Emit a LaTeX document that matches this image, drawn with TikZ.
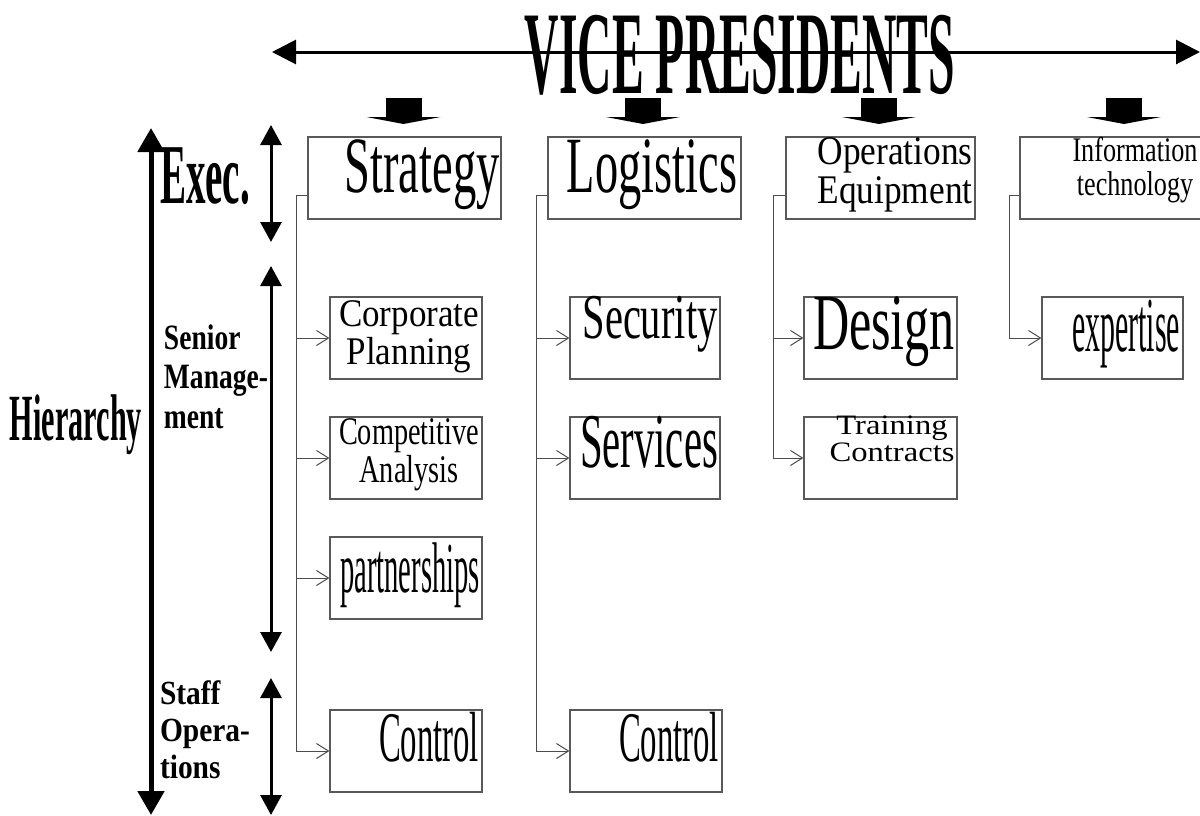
\documentclass[tikz,border=0pt]{standalone}
\usepackage{fontspec}
\setmainfont{Liberation Serif}
\usepackage{graphicx}
\usetikzlibrary{arrows.meta}
\newcommand{\fitxt}[3]{\resizebox*{#1pt}{#2pt}{#3}}
\newcommand{\twol}[2]{{\renewcommand{\arraystretch}{0.8}\begin{tabular}{@{}c@{}}#1\\#2\end{tabular}}}
\newcommand{\threel}[3]{{\renewcommand{\arraystretch}{0.92}\begin{tabular}{@{}l@{}}#1\\#2\\#3\end{tabular}}}
\tikzset{
  boxnode/.style={draw=black!65, line width=1.2pt, rectangle, inner sep=0pt, minimum height=82pt},
  txt/.style={inner sep=0pt, anchor=center},
  conn/.style={draw=black!70, line width=1pt},
  connarr/.style={conn, -{Straight Barb[length=12pt,width=15pt]}},
  bigarr/.style={line width=3pt, {Triangle[length=24pt,width=24pt]}-{Triangle[length=24pt,width=24pt]}},
  mainarr/.style={line width=5pt, {Triangle[length=24pt,width=26pt]}-{Triangle[length=24pt,width=26pt]}},
  segarr/.style={line width=3pt, {Triangle[length=20pt,width=21pt]}-{Triangle[length=20pt,width=21pt]}}
}
\begin{document}
\begin{tikzpicture}[x=1pt,y=-1pt]
\useasboundingbox (0,0) rectangle (1200,815);
\fill[white] (0,0) rectangle (1200,815);

% top axis
\coordinate (hl) at (272,52);
\coordinate (hr) at (1200,52);
\draw[bigarr] (hl) -- (hr);
\node[txt] (title) at (740,55) {\fitxt{430}{80}{\bfseries VICE PRESIDENTS}};

% block arrows
\foreach \c in {403.5,643,879,1124}{
  \fill (\c-18,98) rectangle (\c+18,117);
  \fill (\c-37,117) -- (\c+37,117) -- (\c,124) -- cycle;
}

% left axes
\coordinate (vt) at (151,128);
\coordinate (vb) at (151,815);
\draw[mainarr] (vt) -- (vb);
\coordinate (s1t) at (271,125); \coordinate (s1b) at (271,242);
\coordinate (s2t) at (271,266); \coordinate (s2b) at (271,652);
\coordinate (s3t) at (271,678); \coordinate (s3b) at (271,815);
\draw[segarr] (s1t) -- (s1b);
\draw[segarr] (s2t) -- (s2b);
\draw[segarr] (s3t) -- (s3b);

\node[txt] (lab0) at (76,425) {\fitxt{132}{60}{\bfseries Hierarchy}};
\node[txt] (lab1) at (205,176) {\fitxt{90}{57}{\bfseries Exec.}};
\node[txt] (lab2) at (216,381) {\fitxt{104}{118}{\bfseries\threel{Senior}{Manage-}{ment}}};
\node[txt] (lab3) at (205,734) {\fitxt{90}{112}{\bfseries\threel{Staff}{Opera-}{tions}}};

% top boxes
\node[boxnode, minimum width=193pt] (t1) at (404.5,178) {};
\node[boxnode, minimum width=193pt] (t2) at (644.5,178) {};
\node[boxnode, minimum width=189pt] (t3) at (880.5,178) {};
\node[boxnode, minimum width=193pt] (t4) at (1116.5,178) {};
\node[txt] (t1x) at (422,175) {\fitxt{155}{70}{Strategy}};
\node[txt] (t2x) at (652,175) {\fitxt{170}{70}{Logistics}};
\node[txt] (t3x) at (895,176) {\fitxt{155}{78}{\twol{Operations}{Equipment}}};
\node[txt] (t4x) at (1135,171) {\fitxt{125}{68}{\twol{Information}{technology}}};

% column 1
\node[boxnode, minimum width=152pt] (a1) at (406,338) {};
\node[boxnode, minimum width=152pt] (a2) at (406,458) {};
\node[boxnode, minimum width=152pt] (a3) at (406,578) {};
\node[boxnode, minimum width=152pt] (a4) at (406,751) {};
\node[txt] (a1x) at (409,338) {\fitxt{140}{76}{\twol{Corporate}{Planning}}};
\node[txt] (a2x) at (409,456) {\fitxt{140}{76}{\twol{Competitive}{Analysis}}};
\node[txt] (a3x) at (410,575) {\fitxt{140}{65}{partnerships}};
\node[txt] (a4x) at (429,737) {\fitxt{100}{50}{Control}};

% column 2
\node[boxnode, minimum width=150pt] (b1) at (645,338) {};
\node[boxnode, minimum width=150pt] (b2) at (645,458) {};
\node[boxnode, minimum width=152pt] (b4) at (646,751) {};
\node[txt] (b1x) at (650,324) {\fitxt{135}{56}{Security}};
\node[txt] (b2x) at (649,442) {\fitxt{138}{52}{Services}};
\node[txt] (b4x) at (669,737) {\fitxt{100}{50}{Control}};

% column 3
\node[boxnode, minimum width=153pt] (c1) at (880.5,338) {};
\node[boxnode, minimum width=153pt] (c2) at (880.5,458) {};
\node[txt] (c1x) at (884,332) {\fitxt{142}{70}{Design}};
\node[txt] (c2x) at (892,443) {\fitxt{125}{54}{\twol{Training}{Contracts}}};

% column 4
\node[boxnode, minimum width=141pt] (d1) at (1112.5,338) {};
\node[txt] (d1x) at (1126,334) {\fitxt{108}{68}{expertise}};

% brackets
\coordinate (k1) at (296,195);
\coordinate (k2) at (536,195);
\coordinate (k3) at (773,195);
\coordinate (k4) at (1009,195);
\draw[conn] ([yshift=-17pt]t1.west) -- (k1) -- (k1 |- a4.west);
\draw[conn] ([yshift=-17pt]t2.west) -- (k2) -- (k2 |- b4.west);
\draw[conn] ([yshift=-17pt]t3.west) -- (k3) -- (k3 |- c2.west);
\draw[conn] ([yshift=-17pt]t4.west) -- (k4) -- (k4 |- d1.west);
\foreach \b in {a1,a2,a3,a4}{\draw[connarr] (k1 |- \b.west) -- (\b.west);}
\foreach \b in {b1,b2,b4}{\draw[connarr] (k2 |- \b.west) -- (\b.west);}
\foreach \b in {c1,c2}{\draw[connarr] (k3 |- \b.west) -- (\b.west);}
\draw[connarr] (k4 |- d1.west) -- (d1.west);
\end{tikzpicture}
\end{document}
